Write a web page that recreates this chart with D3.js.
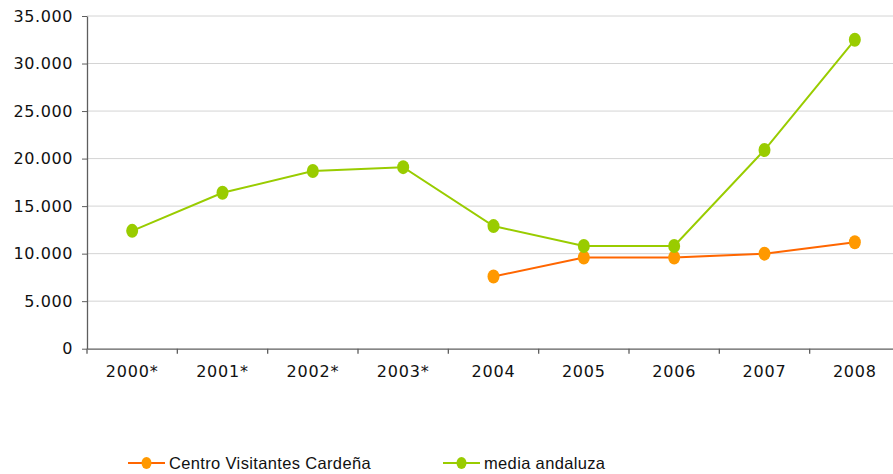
<!DOCTYPE html>
<html>
<head>
<meta charset="utf-8">
<script src="https://cdn.jsdelivr.net/npm/d3@7"></script>
<style>
  html, body { margin: 0; padding: 0; background: #fff; }
  svg { display: block; }
</style>
</head>
<body>
<svg id="chart" width="893" height="474"></svg>
<script>
// Visitor numbers per year
const years = ["2000*", "2001*", "2002*", "2003*", "2004", "2005", "2006", "2007", "2008"];
const centroCardena = [null, null, null, null, 7600, 9600, 9600, 10000, 11200];
const mediaAndaluza = [12400, 16400, 18700, 19100, 12900, 10800, 10800, 20900, 32500];
const yTicks = [0, 5000, 10000, 15000, 20000, 25000, 30000, 35000];
const seriesNames = ["Centro Visitantes Cardeña", "media andaluza"];

const svg = d3.select("#chart");
const plotLeft = 87, plotRight = 900, plotTop = 16, plotBottom = 348.7;

const x = d3.scaleBand().domain(years).range([plotLeft, plotRight]);
const y = d3.scaleLinear().domain([0, 35000]).range([plotBottom, plotTop]);
const fmt = d => d === 0 ? "0" : d3.format(",")(d).replace(/,/g, ".");

// Gridlines
svg.append("g").selectAll("line").data(yTicks.filter(d => d > 0)).join("line")
  .attr("x1", plotLeft).attr("x2", 893)
  .attr("y1", d => y(d)).attr("y2", d => y(d))
  .attr("stroke", "#d4d4d4").attr("stroke-width", 1);

// Y axis
const yAxis = svg.append("g").attr("transform", `translate(${plotLeft},0)`)
  .call(d3.axisLeft(y).tickValues(yTicks).tickFormat(fmt).tickSize(5).tickSizeOuter(0));
yAxis.select(".domain").attr("stroke", "#5e5e5e").attr("stroke-width", 1.3);
yAxis.selectAll(".tick line").attr("stroke", "#5e5e5e");
yAxis.selectAll(".tick text")
  .attr("x", -14)
  .attr("fill", "#111")
  .style("font-family", "'DejaVu Sans', Verdana, sans-serif")
  .style("font-size", "16px")
  .style("letter-spacing", "0.6px");

// X axis
const xAxis = svg.append("g").attr("transform", `translate(0,${plotBottom})`)
  .call(d3.axisBottom(x).tickSize(0).tickSizeOuter(0));
xAxis.select(".domain").attr("stroke", "#5e5e5e").attr("stroke-width", 1.3);
xAxis.selectAll(".tick text")
  .attr("y", 17)
  .attr("fill", "#111")
  .style("font-family", "'DejaVu Sans', Verdana, sans-serif")
  .style("font-size", "16px")
  .style("letter-spacing", "0.8px");
// Category boundary ticks
svg.append("g").selectAll("line").data(years).join("line")
  .attr("x1", d => x(d)).attr("x2", d => x(d))
  .attr("y1", plotBottom).attr("y2", plotBottom + 5)
  .attr("stroke", "#5e5e5e").attr("stroke-width", 1.3);

const series = [
  { name: seriesNames[0], values: centroCardena, line: "#ff6600", dot: "#ff9900" },
  { name: seriesNames[1], values: mediaAndaluza, line: "#99cc00", dot: "#99cc00" }
];

const line = d3.line()
  .defined(d => d.v != null)
  .x(d => x(d.k) + x.bandwidth() / 2)
  .y(d => y(d.v));

series.forEach(s => {
  const pts = years.map((k, i) => ({ k, v: s.values[i] }));
  svg.append("path").datum(pts)
    .attr("d", line)
    .attr("fill", "none")
    .attr("stroke", s.line)
    .attr("stroke-width", 2);
  svg.append("g").selectAll("ellipse").data(pts.filter(d => d.v != null)).join("ellipse")
    .attr("cx", d => x(d.k) + x.bandwidth() / 2)
    .attr("cy", d => y(d.v))
    .attr("rx", 6).attr("ry", 7)
    .attr("fill", s.dot);
});

// Legend
const legendX = [128, 443];
const legendY = 463;
series.forEach((s, i) => {
  const g = svg.append("g").attr("transform", `translate(${legendX[i]},${legendY})`);
  g.append("line").attr("x1", 0).attr("x2", 37).attr("y1", 0).attr("y2", 0)
    .attr("stroke", s.line).attr("stroke-width", 2);
  g.append("ellipse").attr("cx", 18.5).attr("cy", 0).attr("rx", 5).attr("ry", 6).attr("fill", s.dot);
  g.append("text").attr("x", 41).attr("y", 6)
    .attr("fill", "#111")
    .style("font-family", "'Liberation Sans', Arial, sans-serif")
    .style("font-size", "16.5px")
    .style("letter-spacing", "0.35px")
    .text(s.name);
});
</script>
</body>
</html>
